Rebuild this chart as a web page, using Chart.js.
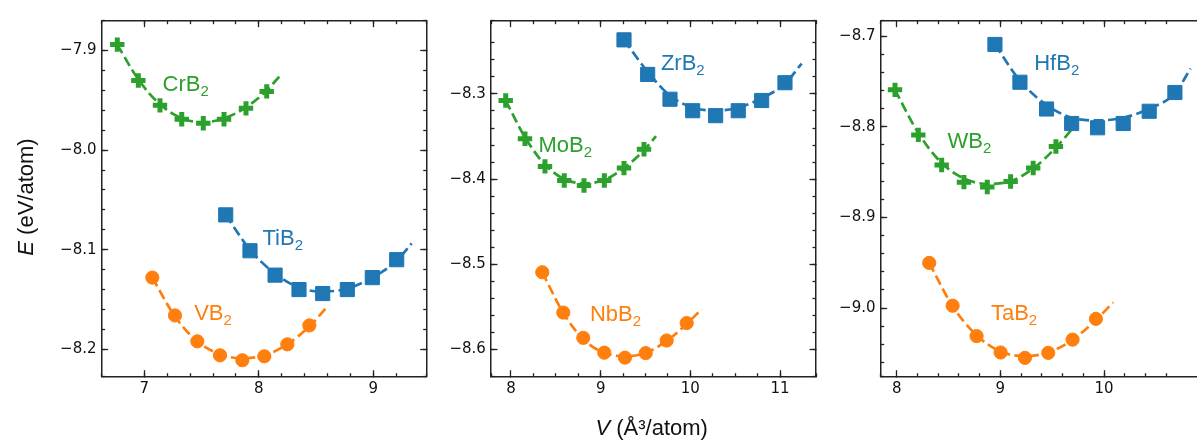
<!DOCTYPE html>
<html>
<head>
<meta charset="utf-8">
<script src="https://cdn.jsdelivr.net/npm/chart.js@4/dist/chart.umd.min.js"></script>
<style>
html,body{margin:0;padding:0;background:#fff;}
#wrap{position:relative;width:1197px;height:441px;overflow:hidden;background:#fff;}
canvas{position:absolute;left:0;top:0;}
.lbl{position:absolute;font-family:'Liberation Sans',Arial,sans-serif;font-size:22px;line-height:22px;white-space:nowrap;}
.lbl sub{font-size:15px;vertical-align:-5px;line-height:0;}
.ttl{position:absolute;font-family:'Liberation Sans',Arial,sans-serif;font-size:22px;line-height:22px;white-space:nowrap;text-align:center;color:#111;}
</style>
</head>
<body>
<div id="wrap">
<canvas id="c1" width="1230" height="441"></canvas>
<canvas id="c2" width="1230" height="441"></canvas>
<canvas id="c3" width="1230" height="441"></canvas>
</div>
<script>
// ---------- data: volumes V (Å^3/atom) and energies E (eV/atom) ----------
// Panel 1
const crV = [6.764, 6.948, 7.137, 7.327, 7.515, 7.696, 7.888, 8.069];
const crE = [-7.894, -7.930, -7.955, -7.969, -7.973, -7.969, -7.958, -7.941];
const crFitV = [6.764, 6.948, 7.137, 7.327, 7.515, 7.696, 7.888, 8.069, 8.179];
const crFitE = [-7.894, -7.929, -7.954, -7.968, -7.972, -7.968, -7.957, -7.940, -7.926];

const tiV = [7.711, 7.923, 8.142, 8.351, 8.558, 8.773, 8.991, 9.204];
const tiE = [-8.065, -8.101, -8.1255, -8.140, -8.144, -8.140, -8.128, -8.110];
const tiFitV = [7.711, 7.923, 8.142, 8.351, 8.558, 8.773, 8.991, 9.204, 9.335];
const tiFitE = [-8.065, -8.100, -8.124, -8.138, -8.142, -8.139, -8.128, -8.111, -8.0935];

const vV = [7.070, 7.268, 7.463, 7.661, 7.856, 8.048, 8.249, 8.441];
const vE = [-8.128, -8.166, -8.192, -8.206, -8.211, -8.207, -8.195, -8.176];
const vFitV = [7.070, 7.268, 7.463, 7.661, 7.856, 8.048, 8.249, 8.441, 8.607];
const vFitE = [-8.128, -8.167, -8.192, -8.205, -8.209, -8.206, -8.195, -8.177, -8.156];

// Panel 2
const moV = [7.941, 8.156, 8.379, 8.594, 8.814, 9.041, 9.260, 9.483];
const moE = [-8.3077, -8.3526, -8.3851, -8.4017, -8.4075, -8.4017, -8.3871, -8.3650];
const moFitV = [7.941, 8.156, 8.379, 8.594, 8.814, 9.041, 9.260, 9.483, 9.617];
const moFitE = [-8.3077, -8.351, -8.383, -8.400, -8.405, -8.401, -8.387, -8.366, -8.3495];

const zrV = [9.260, 9.524, 9.773, 10.026, 10.282, 10.534, 10.795, 11.055];
const zrE = [-8.2365, -8.2771, -8.3062, -8.3197, -8.3255, -8.3197, -8.3077, -8.2868];
const zrFitV = [9.260, 9.524, 9.773, 10.026, 10.282, 10.534, 10.795, 11.055, 11.241];
const zrFitE = [-8.2365, -8.274, -8.302, -8.316, -8.3195, -8.316, -8.305, -8.288, -8.2643];

const nbV = [8.349, 8.583, 8.806, 9.040, 9.271, 9.502, 9.736, 9.959];
const nbE = [-8.5094, -8.5567, -8.5864, -8.6038, -8.6096, -8.6043, -8.5895, -8.5690];
const nbFitV = [8.349, 8.583, 8.806, 9.040, 9.271, 9.502, 9.736, 9.959, 10.126];
const nbFitE = [-8.5094, -8.5570, -8.5880, -8.6040, -8.6080, -8.6040, -8.5900, -8.5700, -8.5527];

// Panel 3
const wV = [7.984, 8.209, 8.434, 8.649, 8.874, 9.099, 9.317, 9.536];
const wE = [-8.7593, -8.8090, -8.8422, -8.8611, -8.8665, -8.8603, -8.8455, -8.8218];
const wFitV = [7.984, 8.209, 8.434, 8.649, 8.874, 9.099, 9.317, 9.536, 9.729];
const wFitE = [-8.7593, -8.807, -8.840, -8.857, -8.863, -8.860, -8.846, -8.823, -8.7975];

const hfV = [8.948, 9.189, 9.446, 9.688, 9.938, 10.185, 10.436, 10.684];
const hfE = [-8.7092, -8.7509, -8.7804, -8.7964, -8.8011, -8.7964, -8.7829, -8.7622];
const hfFitV = [8.948, 9.189, 9.446, 9.688, 9.938, 10.185, 10.436, 10.684, 10.835];
const hfFitE = [-8.7092, -8.749, -8.776, -8.790, -8.793, -8.790, -8.780, -8.763, -8.7357];

const taV = [8.314, 8.540, 8.771, 9.003, 9.237, 9.462, 9.697, 9.922];
const taE = [-8.9502, -8.9974, -9.0309, -9.0490, -9.0549, -9.0494, -9.0348, -9.0119];
const taFitV = [8.314, 8.540, 8.771, 9.003, 9.237, 9.462, 9.697, 9.922, 10.089];
const taFitE = [-8.9502, -8.9980, -9.0300, -9.0480, -9.0530, -9.0490, -9.0350, -9.0130, -8.9938];

// tick labels (major ticks)
const p1XTicks = [7, 8, 9];
const p1YTicks = [-7.9, -8.0, -8.1, -8.2];
const p2XTicks = [8, 9, 10, 11];
const p2YTicks = [-8.3, -8.4, -8.5, -8.6];
const p3XTicks = [8, 9, 10];
const p3YTicks = [-8.7, -8.8, -8.9, -9.0];

// axis ranges
const p1XRange = [6.628, 9.466], p1YRange = [-8.2275, -7.870];
const p2XRange = [7.777, 11.401], p2YRange = [-8.632, -8.214];
const p3XRange = [7.846, 10.981], p3YRange = [-9.0757, -8.683];

// ---------- styles ----------
const BLUE = '#1f77b4', ORANGE = '#ff7f0e', GREEN = '#2ca02c';
const AX = '#222222';
const tickFont = {family: "'DejaVu Sans', sans-serif", size: 15};
const CANVAS_W = 1230, CANVAS_H = 441;
const MAJOR_LEN = -6.5, MINOR_LEN = -3.5;
const Y_LABEL_W = 60, X_LABEL_H = 40;

function pts(V, E) { return V.map((v, i) => ({x: v, y: E[i]})); }

function markers(V, E, color, style) {
  const r = style === 'rect' ? 10 : (style === 'circle' ? 6.6 : 7.2);
  return {
    data: pts(V, E), showLine: false, pointStyle: style,
    pointRadius: r, pointHoverRadius: r,
    pointBackgroundColor: color, pointBorderColor: color,
    pointBorderWidth: style === 'cross' ? 5 : 1,
    order: 0
  };
}
function fitLine(V, E, color) {
  return {
    data: pts(V, E), showLine: true, pointRadius: 0, pointHoverRadius: 0,
    borderColor: color, borderWidth: 2.7, borderDash: [10, 4.5],
    cubicInterpolationMode: 'monotone', fill: false, order: 1
  };
}

const fmtY = v => Number(v).toFixed(1).replace('-', '\u2212');
const fmtX = v => String(Math.round(v));

function scaleSet(xr, yr, xMajor, yMajor, xMinorStep, yMinorStep) {
  const zeroH = s => { s.height = 0; };
  const zeroW = s => { s.width = 0; };
  const fixH = s => { s.height = X_LABEL_H; };
  const fixW = s => { s.width = Y_LABEL_W; };
  const fix = arr => s => { s.ticks = arr.map(v => ({value: v})); };
  const grid = len => ({drawOnChartArea: false, drawTicks: true, tickLength: len, tickColor: AX, tickWidth: 1.3});
  const border = on => ({display: on, color: AX, width: 1.5});
  const hidden = step => Object.assign({display: false, autoSkip: false}, step ? {stepSize: step} : {});
  return {
    x: {type: 'linear', axis: 'x', position: 'bottom', weight: 1, min: xr[0], max: xr[1],
        afterBuildTicks: fix(xMajor), afterFit: fixH, grid: grid(MAJOR_LEN), border: border(true),
        ticks: {display: true, autoSkip: false, maxRotation: 0, minRotation: 0, font: tickFont, color: '#111', padding: 10.4, callback: fmtX}},
    xm: {type: 'linear', axis: 'x', position: 'bottom', weight: 0, min: xr[0], max: xr[1],
        afterFit: zeroH, grid: grid(MINOR_LEN), border: border(false), ticks: hidden(xMinorStep)},
    xt: {type: 'linear', axis: 'x', position: 'top', min: xr[0], max: xr[1],
        afterBuildTicks: fix(xMajor), afterFit: zeroH, grid: grid(MAJOR_LEN), border: border(true), ticks: hidden()},
    xtm: {type: 'linear', axis: 'x', position: 'top', min: xr[0], max: xr[1],
        afterFit: zeroH, grid: grid(MINOR_LEN), border: border(false), ticks: hidden(xMinorStep)},
    y: {type: 'linear', axis: 'y', position: 'left', weight: 1, min: yr[0], max: yr[1],
        afterBuildTicks: fix(yMajor), afterFit: fixW, grid: grid(MAJOR_LEN), border: border(true),
        ticks: {display: true, autoSkip: false, font: tickFont, color: '#111', padding: 11.7, callback: fmtY}},
    ym: {type: 'linear', axis: 'y', position: 'left', weight: 0, min: yr[0], max: yr[1],
        afterFit: zeroW, grid: grid(MINOR_LEN), border: border(false), ticks: hidden(yMinorStep)},
    yr: {type: 'linear', axis: 'y', position: 'right', min: yr[0], max: yr[1],
        afterBuildTicks: fix(yMajor), afterFit: zeroW, grid: grid(MAJOR_LEN), border: border(true), ticks: hidden()},
    yrm: {type: 'linear', axis: 'y', position: 'right', min: yr[0], max: yr[1],
        afterFit: zeroW, grid: grid(MINOR_LEN), border: border(false), ticks: hidden(yMinorStep)}
  };
}

function makeChart(id, area, datasets, scales) {
  return new Chart(document.getElementById(id), {
    type: 'scatter',
    data: {datasets},
    options: {
      responsive: false, animation: false, events: [],
      layout: {autoPadding: false, padding: {
        left: area.left - Y_LABEL_W, right: CANVAS_W - area.right,
        top: area.top, bottom: CANVAS_H - area.bottom - X_LABEL_H}},
      plugins: {legend: {display: false}, tooltip: {enabled: false}, title: {display: false}},
      scales
    }
  });
}

makeChart('c1', {left: 101.7, right: 426.7, top: 16.7, bottom: 376.7}, [
  markers(crV, crE, GREEN, 'cross'), fitLine(crFitV, crFitE, GREEN),
  markers(tiV, tiE, BLUE, 'rect'), fitLine(tiFitV, tiFitE, BLUE),
  markers(vV, vE, ORANGE, 'circle'), fitLine(vFitV, vFitE, ORANGE)
], scaleSet(p1XRange, p1YRange, p1XTicks, p1YTicks, 0.2, 0.02));

makeChart('c2', {left: 491, right: 816, top: 16.7, bottom: 376.7}, [
  markers(moV, moE, GREEN, 'cross'), fitLine(moFitV, moFitE, GREEN),
  markers(zrV, zrE, BLUE, 'rect'), fitLine(zrFitV, zrFitE, BLUE),
  markers(nbV, nbE, ORANGE, 'circle'), fitLine(nbFitV, nbFitE, ORANGE)
], scaleSet(p2XRange, p2YRange, p2XTicks, p2YTicks, 0.25, 0.02));

makeChart('c3', {left: 880.7, right: 1205.7, top: 16.7, bottom: 376.7}, [
  markers(wV, wE, GREEN, 'cross'), fitLine(wFitV, wFitE, GREEN),
  markers(hfV, hfE, BLUE, 'rect'), fitLine(hfFitV, hfFitE, BLUE),
  markers(taV, taE, ORANGE, 'circle'), fitLine(taFitV, taFitE, ORANGE)
], scaleSet(p3XRange, p3YRange, p3XTicks, p3YTicks, 0.2, 0.02));

// ---------- compound labels ----------
const compoundNames = ['Cr', 'Ti', 'V', 'Zr', 'Mo', 'Nb', 'Hf', 'W', 'Ta'];
const compoundColors = [GREEN, BLUE, ORANGE, BLUE, GREEN, ORANGE, BLUE, GREEN, ORANGE];
const labelPlace = [
  [162.5, 91.7], [262.5, 245.7], [194.2, 320.7],
  [660.9, 70.7], [538.5, 152.4], [589.9, 321.7],
  [1034.2, 70.7], [947.5, 149.0], [990.9, 320.7]
];
const wrap = document.getElementById('wrap');
compoundNames.forEach((n, i) => {
  const d = document.createElement('div');
  d.className = 'lbl';
  d.style.color = compoundColors[i];
  d.style.left = labelPlace[i][0] + 'px';
  d.style.top = (labelPlace[i][1] - 18.6) + 'px';
  d.innerHTML = n + 'B<sub>2</sub>';
  wrap.appendChild(d);
});

// ---------- axis titles ----------
const yt = document.createElement('div');
yt.className = 'ttl';
yt.style.width = '200px';
yt.style.left = (25.9 - 100) + 'px';
yt.style.top = (196.5 - 11) + 'px';
yt.style.transform = 'rotate(-90deg)';
yt.style.transformOrigin = '50% 50%';
yt.innerHTML = '<i>E</i> (eV/atom)';
wrap.appendChild(yt);

const xt = document.createElement('div');
xt.className = 'ttl';
xt.style.width = '300px';
xt.style.left = (651.7 - 150) + 'px';
xt.style.top = (436 - 18.6) + 'px';
xt.innerHTML = '<i>V</i> (Å\u00B3/atom)';
wrap.appendChild(xt);
</script>
</body>
</html>
